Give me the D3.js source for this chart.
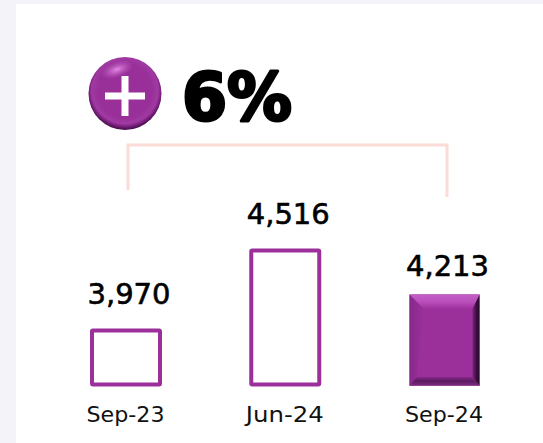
<!DOCTYPE html>
<html><head><meta charset="utf-8">
<script src="https://cdn.jsdelivr.net/npm/d3@7/dist/d3.min.js"></script>
<style>html,body{margin:0;padding:0;background:#f3f3f9;overflow:hidden}svg{display:block}</style>
</head><body><svg id="c" width="543" height="443"></svg>
<script>
const categories = ["Sep-23","Jun-24","Sep-24"];
const values = [3970,4516,4213];
const valueLabels = ["3,970","4,516","4,213"];
const filled = [false,false,true];
const changeLabel = "6%";
const purple = "#9b309b";
const svg = d3.select("#c");
const defs = svg.append("defs");
const rg = defs.append("radialGradient").attr("id","ball").attr("cx","50%").attr("cy","46%").attr("r","54%");
[[0,"#9a2f9a"],[.68,"#992f99"],[.84,"#a03aa2"],[.93,"#6e1a72"],[1,"#3e0c44"]].forEach(d=>rg.append("stop").attr("offset",d[0]).attr("stop-color",d[1]));
const hl = defs.append("radialGradient").attr("id","hl").attr("cx","50%").attr("cy","50%").attr("r","50%");
hl.append("stop").attr("offset",0).attr("stop-color","#e88fe9").attr("stop-opacity",.95);
hl.append("stop").attr("offset",1).attr("stop-color","#c060c0").attr("stop-opacity",0);

svg.append("rect").attr("x",16).attr("y",4).attr("width",527).attr("height",439).attr("fill","#fff");

const x = d3.scalePoint().domain(categories).range([126,444.5]);
const y = d3.scaleLinear().domain([3591,4516]).range([386,250.5]);
const bw = 68;
const cx = d => x(d);

// bracket
const br = d3.path();
br.moveTo(cx(categories[0])+2,190); br.lineTo(cx(categories[0])+2,145);
br.lineTo(cx(categories[2])+2.5,145); br.lineTo(cx(categories[2])+2.5,197);
svg.append("path").attr("d",br.toString()).attr("fill","none").attr("stroke","#fbdcd6").attr("stroke-width",3);

// badge
const g = svg.append("g").attr("transform","translate(125,93.5)");
g.append("circle").attr("r",36.5).attr("fill","url(#ball)");
g.append("ellipse").attr("cx",-8).attr("cy",-24).attr("rx",17).attr("ry",8).attr("transform","rotate(-20 -8 -24)").attr("fill","url(#hl)");
g.append("rect").attr("x",-20).attr("y",-1).attr("width",40).attr("height",7).attr("fill","#fff");
g.append("rect").attr("x",-3.5).attr("y",-17.5).attr("width",7).attr("height",40).attr("fill","#fff");

svg.append("text").attr("x",182).attr("y",120).attr("font-family","'DejaVu Sans',sans-serif").attr("font-weight",700).attr("font-size",65).attr("textLength",110).attr("lengthAdjust","spacingAndGlyphs")
  .attr("fill","#000").attr("stroke","#000").attr("stroke-width",3).attr("stroke-linejoin","round").text(changeLabel);

categories.forEach((c,i)=>{
  const top = y(values[i]), left = cx(c)-bw/2, h = y.range()[0]-top;
  if(!filled[i]){
    svg.append("rect").attr("x",left).attr("y",top).attr("width",bw).attr("height",h-1.5)
      .attr("fill","#fff").attr("stroke",purple).attr("stroke-width",4).attr("rx",1);
  } else {
    const L=left-1,R=left+bw+1,T=top-.5,B=y.range()[0],it=14,is=7,ib=9;
    const poly=(pts,f)=>svg.append("polygon").attr("points",pts.map(p=>p.join(",")).join(" ")).attr("fill",f);
    const lin=(id,hor,st)=>{const q=defs.append("linearGradient").attr("id",id).attr("x1",0).attr("y1",0).attr("x2",hor?1:0).attr("y2",hor?0:1);st.forEach(s=>q.append("stop").attr("offset",s[0]).attr("stop-color",s[1]));};
    lin("t",false,[[0,"#c45fc6"],[.5,"#bb50bc"],[1,"#9f329f"]]);
    lin("bt",false,[[0,"#8a2a8c"],[.45,"#5c1a60"],[.9,"#7a2a7e"],[1,"#b05cb2"]]);
    lin("rr",true,[[0,"#7a2480"],[.55,"#3e0f42"],[1,"#25082a"]]);
    lin("ll",true,[[0,"#87288a"],[1,"#9b309b"]]);
    svg.append("rect").attr("x",L).attr("y",T).attr("width",R-L).attr("height",B-T).attr("fill",purple);
    poly([[L,T],[L,B],[L+is,B-ib],[L+it,T+it]],"url(#ll)");
    poly([[R,T],[R,B],[R-is,B-ib],[R-is,T+it]],"url(#rr)");
    poly([[L,T],[R,T],[R-is,T+it],[L+it,T+it]],"url(#t)");
    poly([[L,B],[R,B],[R-is,B-ib],[L+is,B-ib]],"url(#bt)");
  }
  const gap = filled[i] ? 19 : 26;
  svg.append("text").attr("x",cx(c)+3).attr("y",top-gap-(i===1?1:0)).attr("text-anchor","middle")
    .attr("font-family","'DejaVu Sans',sans-serif").attr("font-weight",500).attr("font-size",29).attr("textLength",83).attr("lengthAdjust","spacingAndGlyphs").attr("stroke","#000").attr("stroke-width",.6).attr("fill","#000").text(valueLabels[i]);
  svg.append("text").attr("x",cx(c)-.5).attr("y",422).attr("text-anchor","middle")
    .attr("font-family","'DejaVu Sans',sans-serif").attr("font-size",21).attr("textLength",78).attr("lengthAdjust","spacingAndGlyphs").attr("fill","#111").text(c);
});
</script></body></html>
